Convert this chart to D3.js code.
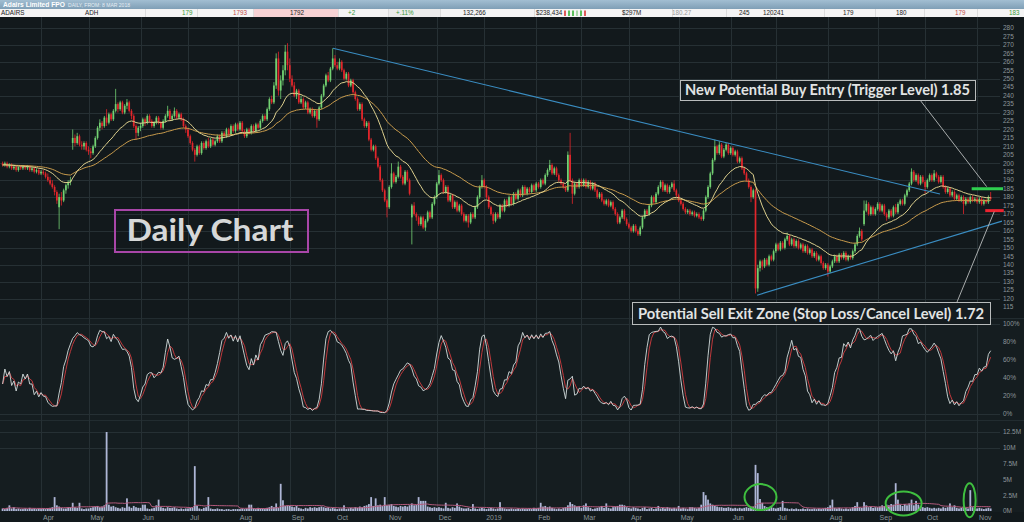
<!DOCTYPE html>
<html><head><meta charset="utf-8">
<script src="https://cdn.jsdelivr.net/npm/d3@7"></script>
<style>html,body{margin:0;padding:0;background:#12191c;overflow:hidden}</style>
</head><body><svg id="c" width="1024" height="522"></svg>
<script>
// ---------------- DATA ----------------
const startDate = "2018-03-08"; // first trading day, one candle per weekday
// daily candles [open, high, low, close] in cents
const ohlc = [
// Mar 2018
[200,201,198,199],[199,201,198,200],[200,201,197,198],[198,200,197,199],[199,200,196,197],[197,199,196,198],[198,199,195,196],[196,198,195,198],[198,199,196,197],[197,199,196,198],[198,199,196,197],[197,199,196,198],[198,199,195,196],[196,198,195,197],[197,198,194,195],[195,197,194,196],[196,197,193,194],
// Apr 2018
[194,196,193,195],[195,196,193,194],[194,195,191,192],[192,194,189,190],[190,192,187,188],[188,190,185,186],[186,187,181,183],[183,184,176,178],[174,182,161,180],[180,183,175,178],[178,185,177,184],[184,188,182,187],[187,190,185,189],[189,192,187,190],[212,220,208,215],[215,217,210,212],[212,218,211,216],[216,217,210,211],[211,213,208,210],[210,213,208,212],[212,213,207,208],
// May 2018
[208,210,205,207],[207,209,203,206],[206,211,205,210],[210,216,209,215],[215,222,214,221],[221,226,219,224],[224,225,220,222],[222,228,221,227],[227,232,222,224],[224,230,223,229],[229,230,225,226],[226,232,225,231],[231,244,230,235],[235,236,230,232],[232,237,231,236],[236,237,229,230],[230,235,229,234],[234,238,232,236],[236,237,230,231],[231,232,226,228],[228,229,221,222],[222,223,214,218],[218,222,216,221],
// Jun 2018
[221,224,219,222],[222,227,221,226],[226,227,222,224],[224,229,223,228],[228,229,224,225],[225,226,221,222],[222,225,221,224],[224,228,223,227],[227,228,223,224],[224,225,220,221],[221,226,220,225],[225,229,224,228],[228,234,227,231],[231,232,225,226],[226,229,225,228],[228,233,227,231],[231,232,226,227],[227,230,226,229],[229,230,225,226],[226,227,221,222],[222,223,218,220],
// Jul 2018
[220,221,215,216],[216,217,211,212],[212,213,207,208],[208,209,201,205],[205,211,204,210],[210,211,205,206],[206,213,205,212],[212,213,208,209],[209,214,208,213],[213,215,209,210],[210,215,209,214],[214,215,210,211],[211,214,210,213],[213,217,212,216],[216,217,212,213],[213,219,212,218],[218,219,215,216],[216,221,215,220],[220,221,216,217],[217,223,216,222],[222,223,218,219],[219,224,218,223],
// Aug 2018
[223,224,219,220],[220,225,219,224],[224,225,218,219],[219,220,215,216],[216,221,215,220],[220,221,217,218],[218,223,217,222],[222,223,218,219],[219,224,218,223],[223,224,220,221],[221,226,220,225],[225,229,224,228],[228,229,225,226],[226,233,225,232],[232,239,231,238],[238,240,235,236],[236,248,235,246],[246,265,244,262],[262,266,240,243],[243,252,238,249],[249,258,246,255],[255,270,252,266],[266,271,255,258],
// Sep 2018
[258,262,248,250],[250,252,245,246],[246,248,239,240],[240,244,238,243],[243,244,235,236],[236,240,235,238],[238,239,232,233],[233,237,232,236],[236,237,229,230],[230,233,229,232],[232,233,227,228],[228,232,227,231],[231,232,221,226],[226,234,225,233],[233,241,232,240],[240,247,239,246],[246,253,245,252],[252,254,248,249],[249,257,248,256],[256,268,255,262],
// Oct 2018
[262,264,257,258],[258,260,255,256],[256,262,255,260],[260,261,254,255],[255,256,249,250],[250,254,249,253],[253,254,245,246],[246,250,245,249],[249,250,241,242],[242,243,237,238],[238,239,231,232],[232,236,231,235],[235,236,225,226],[226,227,221,222],[222,225,221,224],[224,225,213,214],[214,215,207,208],[208,211,207,210],[210,211,202,203],[203,204,197,198],[198,199,189,190],[190,191,183,184],[184,185,177,178],
// Nov 2018
[178,179,168,174],[174,187,173,186],[186,200,185,194],[194,195,188,189],[189,193,188,192],[192,201,191,198],[198,199,191,192],[192,193,187,188],[188,196,187,195],[195,196,189,190],[190,191,181,182],[168,176,152,175],[175,177,169,170],[170,171,166,168],[168,169,163,164],[164,169,163,168],[168,169,161,162],[162,167,160,166],[166,172,165,171],[171,172,167,168],[168,177,167,176],[176,181,175,180],
// Dec 2018
[180,189,179,188],[188,196,187,193],[193,194,189,190],[190,191,182,183],[183,187,182,186],[186,187,177,178],[178,182,177,181],[181,182,173,174],[174,178,173,177],[177,178,171,172],[172,176,171,175],[175,176,169,170],[170,171,165,166],[166,170,165,169],[169,170,162,165],[165,171,164,170],[170,171,167,168],[168,175,167,174],[174,181,173,180],[180,187,179,186],[186,193,185,190],
// Jan 2019
[190,191,185,186],[186,187,179,180],[180,181,173,174],[174,175,169,170],[170,171,164,166],[166,171,165,170],[170,171,167,168],[168,176,167,175],[175,176,171,172],[172,179,171,178],[178,179,174,175],[175,181,174,180],[180,181,175,176],[176,183,175,182],[182,183,178,179],[179,185,178,184],[184,185,180,181],[181,187,180,186],[186,187,181,182],[182,186,181,185],[185,186,182,183],[183,188,182,187],[187,188,183,184],
// Feb 2019
[184,189,183,188],[188,189,185,186],[186,191,185,190],[190,191,187,188],[188,194,187,193],[193,197,192,196],[196,202,195,199],[199,200,193,194],[194,198,193,197],[197,198,192,193],[193,194,189,190],[190,191,187,188],[188,189,185,186],[186,187,183,184],[184,207,183,205],[205,218,189,190],[190,191,176,182],[182,189,181,188],[188,189,185,186],[186,191,185,190],
// Mar 2019
[190,191,186,187],[187,191,186,190],[190,191,185,186],[186,190,185,189],[189,190,184,185],[185,189,184,188],[188,189,183,184],[184,185,179,180],[180,183,179,182],[182,183,177,178],[178,179,175,176],[176,179,175,178],[178,179,174,175],[175,178,174,177],[177,178,172,173],[173,174,169,170],[170,171,164,165],[165,169,164,168],[168,173,167,172],[172,173,166,167],[167,168,163,164],
// Apr 2019
[164,165,161,162],[162,163,159,160],[160,164,159,163],[163,164,159,160],[160,161,157,158],[158,163,157,162],[162,169,161,168],[168,173,167,172],[172,173,169,170],[170,176,169,175],[175,181,174,180],[180,181,176,177],[177,183,176,182],[182,187,181,186],[186,190,185,189],[189,190,183,184],[184,188,183,187],[187,188,182,183],[183,187,182,186],[186,189,185,188],[188,190,183,184],[184,185,180,181],
// May 2019
[181,182,177,178],[178,179,175,176],[176,177,172,173],[173,174,170,171],[171,173,170,172],[172,173,169,170],[170,172,169,171],[171,172,168,169],[169,171,168,170],[170,171,167,168],[168,169,166,167],[167,173,166,172],[172,181,171,180],[180,187,179,186],[186,195,185,194],[194,203,193,202],[202,214,201,210],[210,211,205,206],[206,213,205,211],[211,212,203,204],[204,209,203,208],[208,212,207,211],[211,212,205,206],
// Jun 2019
[206,210,205,209],[209,210,204,205],[205,208,204,207],[207,208,200,201],[201,204,200,203],[203,204,196,197],[197,198,193,194],[194,195,189,190],[190,191,185,186],[186,187,177,180],[180,185,179,184],[184,185,123,126],[126,140,124,138],[138,143,136,142],[142,143,137,139],[139,144,138,143],[143,144,139,140],[140,146,139,145],[145,146,142,143],[143,149,142,148],
// Jul 2019
[148,153,147,152],[152,153,148,149],[149,154,148,153],[153,154,149,150],[150,156,149,155],[155,159,154,157],[157,158,151,152],[152,156,151,155],[155,156,150,151],[151,155,150,154],[154,155,149,150],[150,153,149,152],[152,153,147,148],[148,152,147,151],[151,152,146,147],[147,150,146,149],[149,150,144,145],[145,148,144,147],[147,148,142,143],[143,146,142,145],[145,146,140,141],[141,142,137,138],[138,141,137,140],
// Aug 2019
[140,141,133,136],[136,140,135,139],[139,143,138,142],[142,146,141,145],[145,146,141,142],[142,147,141,146],[146,147,143,144],[144,148,143,147],[147,148,142,143],[143,146,142,145],[145,146,143,144],[144,149,143,148],[148,153,147,152],[152,158,151,157],[157,162,156,160],[160,161,154,155],[164,178,163,172],[172,178,171,176],[176,177,169,170],[170,175,169,174],[174,175,169,170],[170,174,169,173],
// Sep 2019
[173,177,172,176],[176,177,171,172],[172,176,171,175],[175,176,169,170],[170,171,166,168],[168,173,167,172],[172,173,168,169],[169,175,168,174],[174,176,170,171],[171,177,170,176],[176,179,175,178],[178,179,175,176],[176,182,175,181],[181,185,180,184],[184,189,183,188],[188,197,187,195],[195,196,189,190],[190,194,189,193],[193,194,187,188],[188,193,187,192],[192,193,188,189],
// Oct 2019
[189,190,182,186],[186,191,185,190],[190,194,189,193],[193,194,189,190],[190,196,189,194],[194,195,191,192],[192,193,188,189],[189,193,188,192],[192,193,185,186],[186,187,182,183],[183,186,182,185],[185,186,180,181],[181,184,180,183],[183,184,178,179],[179,182,178,181],[181,182,177,178],[178,181,177,180],[180,181,170,176],[176,180,175,179],[179,180,176,177],[177,181,176,180],[180,181,177,178],[178,180,177,179],
// Nov 2019
[179,180,176,177],[177,180,176,179],[179,180,175,176],[176,179,175,178],[178,179,176,177],[177,181,176,180],[180,183,178,179]
];
// daily volume, millions of shares
const volume = [
0.4,0.3,0.5,0.9,0.4,0.6,0.3,0.4,0.3,0.3,0.4,0.3,0.5,0.3,0.4,0.3,0.4,
0.3,0.4,0.3,0.4,0.5,0.6,2.2,0.9,0.7,0.5,0.4,0.4,0.6,0.6,1.3,0.6,0.5,1.3,0.4,0.3,0.4,
0.4,0.5,0.6,0.7,0.8,0.6,0.7,0.9,12.5,1.0,0.7,0.8,0.6,0.5,0.4,0.6,0.5,2.0,0.7,0.5,0.8,0.6,0.5,
0.5,1.0,1.0,0.4,0.3,0.4,0.5,0.9,1.8,0.6,0.5,0.4,0.6,0.5,0.5,0.6,0.4,0.3,0.4,0.3,0.4,
0.4,0.5,0.6,7.1,0.8,0.4,0.3,0.5,0.6,2.2,0.4,0.3,0.3,0.4,0.3,0.3,0.2,0.3,0.3,0.2,0.3,0.3,
0.3,0.3,0.4,0.3,0.4,1.0,1.0,0.4,0.3,0.5,0.4,0.4,0.3,0.5,0.6,0.8,0.6,1.2,0.5,4.3,1.7,0.8,0.9,
0.8,0.7,0.6,0.8,0.5,0.4,0.3,0.5,0.4,0.6,0.5,0.6,0.5,0.6,0.7,0.6,0.5,0.6,0.4,0.5,
0.4,0.3,0.4,0.4,0.9,0.3,0.4,0.5,0.4,0.6,0.5,0.7,0.6,0.8,0.9,1.1,2.2,0.8,2.0,0.9,1.0,0.8,2.2,
0.9,1.0,1.1,0.8,0.7,0.6,0.8,0.7,0.8,0.7,0.9,1.2,0.9,1.0,2.2,1.6,1.6,1.6,0.7,0.6,0.5,0.6,
0.5,0.6,0.5,0.4,1.3,0.5,0.4,0.6,0.5,1.2,0.7,0.5,0.4,0.4,0.5,0.3,1.1,0.4,0.3,0.4,0.5,
0.4,0.3,0.4,0.5,0.4,0.3,0.4,1.4,0.5,0.4,0.3,0.3,0.4,0.3,0.3,0.4,0.3,0.4,0.3,0.3,0.4,0.3,0.5,
0.4,0.5,1.3,0.7,0.8,0.6,0.7,0.5,0.4,0.3,0.4,0.3,0.5,0.6,0.9,1.4,1.1,0.9,0.7,0.8,
0.5,0.9,1.2,0.6,0.5,0.3,0.4,0.5,0.6,0.8,0.5,1.2,0.5,0.4,0.6,0.7,0.8,1.0,1.0,0.9,0.6,
0.5,0.4,0.6,0.5,0.4,0.3,0.5,0.6,0.3,0.4,0.5,0.3,0.4,0.8,0.4,0.5,0.4,0.6,0.5,0.4,0.5,0.4,
0.8,0.4,0.5,0.4,0.3,0.6,0.6,0.5,0.4,0.5,1.0,3.0,2.5,1.8,1.2,1.0,0.8,0.7,0.6,0.6,0.5,0.5,0.6,
0.5,0.4,0.5,0.4,0.5,0.4,0.5,0.6,0.5,0.6,0.7,7.3,6.0,1.9,1.3,0.8,0.6,0.5,0.7,0.5,
0.4,0.5,0.6,1.6,0.5,0.4,0.3,0.4,0.3,0.4,0.3,0.3,0.4,0.3,0.4,0.3,0.3,0.4,0.3,0.4,0.3,0.4,0.5,
0.6,0.9,1.8,0.5,0.4,0.5,0.4,0.3,0.4,0.3,0.4,0.6,0.8,1.4,0.6,0.5,1.4,0.9,0.6,0.7,0.5,0.6,
0.6,0.7,0.9,0.8,1.0,0.9,1.1,1.0,4.4,1.8,1.0,0.8,1.1,0.9,1.2,1.8,0.9,1.6,1.0,0.7,0.6,
0.5,0.6,0.5,0.4,0.5,0.4,0.5,0.4,0.6,0.5,0.6,1.2,0.6,0.9,0.5,0.4,0.5,0.7,0.5,0.4,3.3,0.6,0.4,
0.4,0.5,0.4,0.3,0.4,0.5,0.4
];
const priceTicks = d3.range(115, 281, 5);
const priceGrid = d3.range(120, 281, 10);
const stochTicks = [0, 20, 40, 60, 80, 100];
const volTicks = [0, 2.5, 5, 7.5, 10, 12.5];
// trend lines: [candle index, price]
const trendUpper = [[146.1, 268], [414.6, 181.8]];
const trendLower = [[333.7, 122], [442.0, 165.8]];
// levels: [price, from index, to index]
const buyLevel = [185, 428.6, 442.5];
const stopLevel = [172, 434.6, 442.8];
// volume highlights: [centre index, centre volume]
const volCircles = [[335.2, 2.2], [398.5, 1.2], [427.7, 1.7]];
const buyText = "New Potential Buy Entry (Trigger Level) 1.85";
const stopText = "Potential Sell Exit Zone (Stop Loss/Cancel Level) 1.72";
const chartTitle = "Daily Chart";
const headerTitle = "Adairs Limited FPO";
const headerSub = "DAILY, FROM: 8 MAR 2018";
const headerFields = ["ADAIRS","ADH","179","1793","1792","+2","+.11%","132,266","$238,434","$297M","180.27","245","120241","179","180","179","183"];

// ---------------- DERIVED ----------------
const N = ohlc.length;
const dates = [];
{ let dt = new Date(startDate + "T00:00:00");
  while (dates.length < N) { const wd = dt.getDay(); if (wd !== 0 && wd !== 6) dates.push(new Date(dt)); dt.setDate(dt.getDate() + 1); } }
const closes = ohlc.map(d => d[3]);
const ema = (a, n) => { const k = 2 / (n + 1); let e = a[0]; return a.map(v => (e = e + (v - e) * k)); };
const sma = (a, n) => a.map((v, i) => d3.mean(a.slice(Math.max(0, i - n + 1), i + 1)));
const emaFast = ema(closes, 20), emaSlow = ema(closes, 50);
const fastK = ohlc.map((d, i) => {
  const w = ohlc.slice(Math.max(0, i - 13), i + 1);
  const hh = d3.max(w, e => e[1]), ll = d3.min(w, e => e[2]);
  return hh === ll ? 50 : 100 * (d[3] - ll) / (hh - ll);
});
const stochK = sma(fastK, 3), stochD = sma(stochK, 3);
const volMA = sma(volume, 20);

// ---------------- LAYOUT ----------------
const svg = d3.select("#c");
const plotR = 1000;
const x = d3.scaleLinear().domain([0, N - 1]).range([2.6, 2.6 + (N - 1) * 2.261]);
const y = d3.scaleLinear().domain([115, 280]).range([307, 28]);
const ys = d3.scaleLinear().domain([0, 100]).range([414, 324]);
const yv = d3.scaleLinear().domain([0, 12.5]).range([511, 432]);
const axisFont = "'Liberation Sans', Arial, sans-serif";

// backgrounds
svg.append("rect").attr("x",0).attr("y",0).attr("width",1024).attr("height",522).attr("fill","#12191c");
svg.append("rect").attr("x",0).attr("y",318).attr("width",1024).attr("height",194).attr("fill","#151d20");
svg.append("line").attr("x1",0).attr("x2",1024).attr("y1",318.5).attr("y2",318.5).attr("stroke","#222c30");
svg.append("line").attr("x1",0).attr("x2",1024).attr("y1",420.5).attr("y2",420.5).attr("stroke","#222c30");

// month grid
const monthStarts = d3.range(1, N).filter(i => dates[i].getMonth() !== dates[i - 1].getMonth());
const gridG = svg.append("g").attr("stroke", "#263034").attr("stroke-width", 1);
gridG.selectAll("line.v").data(monthStarts).join("line")
  .attr("x1", i => Math.round(x(i)) + 0.5).attr("x2", i => Math.round(x(i)) + 0.5)
  .attr("y1", 17).attr("y2", 512);
gridG.selectAll("line.p").data(priceGrid).join("line")
  .attr("x1", 0).attr("x2", plotR).attr("y1", d => Math.round(y(d)) + 0.5).attr("y2", d => Math.round(y(d)) + 0.5);
gridG.selectAll("line.s").data([0, 100]).join("line")
  .attr("x1", 0).attr("x2", plotR).attr("y1", d => Math.round(ys(d)) + 0.5).attr("y2", d => Math.round(ys(d)) + 0.5);
gridG.selectAll("line.vv").data([10, 12.5]).join("line")
  .attr("x1", 0).attr("x2", plotR).attr("y1", d => Math.round(yv(d)) + 0.5).attr("y2", d => Math.round(yv(d)) + 0.5);

// x labels
svg.append("g").selectAll("text").data(monthStarts).join("text")
  .attr("x", i => x(i) + 2).attr("y", 519.5)
  .attr("font-family", axisFont).attr("font-size", 7).attr("fill", "#8c969a")
  .text(i => dates[i].getMonth() === 0 ? d3.timeFormat("%Y")(dates[i]) : d3.timeFormat("%b")(dates[i]));

// right axes
const axG = svg.append("g").attr("font-family", axisFont).attr("font-size", 6.5).attr("fill", "#8c969a");
axG.selectAll("text.p").data(priceTicks).join("text").attr("x", 1003).attr("y", d => y(d) + 2.3).text(d => d);
axG.selectAll("text.s").data(stochTicks).join("text").attr("x", 1003).attr("y", d => ys(d) + 2.3).text(d => d + "%");
axG.selectAll("text.v").data(volTicks).join("text").attr("x", 1003).attr("y", d => yv(d) + 2.3).text(d => d + "M");

// candles
const up = "#72d172", dn = "#e3262b";
const cG = svg.append("g");
cG.selectAll("line").data(ohlc).join("line")
  .attr("x1", (d, i) => x(i)).attr("x2", (d, i) => x(i))
  .attr("y1", d => y(d[1])).attr("y2", d => y(d[2]))
  .attr("stroke", d => d[3] >= d[0] ? up : dn).attr("stroke-width", 0.8);
cG.selectAll("rect").data(ohlc).join("rect")
  .attr("x", (d, i) => x(i) - 0.85).attr("width", 1.7)
  .attr("y", d => y(Math.max(d[0], d[3])))
  .attr("height", d => Math.max(0.8, Math.abs(y(d[0]) - y(d[3]))))
  .attr("fill", d => d[3] >= d[0] ? up : dn);

// moving averages
const lineP = d3.line().x((d, i) => x(i)).y(d => y(d));
svg.append("path").attr("d", lineP(emaSlow)).attr("fill", "none").attr("stroke", "#c89b4c").attr("stroke-width", 1);
svg.append("path").attr("d", lineP(emaFast)).attr("fill", "none").attr("stroke", "#ddd08e").attr("stroke-width", 1);

// trend lines
const tl = d3.line().x(d => x(d[0])).y(d => y(d[1]));
svg.append("path").attr("d", tl(trendUpper)).attr("stroke", "#3a8dc2").attr("stroke-width", 1.1).attr("fill", "none");
svg.append("path").attr("d", tl(trendLower)).attr("stroke", "#3a8dc2").attr("stroke-width", 1.1).attr("fill", "none");

// levels
svg.append("line").attr("x1", x(buyLevel[1])).attr("x2", x(buyLevel[2])).attr("y1", y(buyLevel[0])).attr("y2", y(buyLevel[0]))
  .attr("stroke", "#2fcf4f").attr("stroke-width", 3);
svg.append("line").attr("x1", x(stopLevel[1])).attr("x2", x(stopLevel[2])).attr("y1", y(stopLevel[0])).attr("y2", y(stopLevel[0]))
  .attr("stroke", "#ec2330").attr("stroke-width", 3);

// stochastic
const lineS = d3.line().x((d, i) => x(i)).y(d => ys(d));
svg.append("path").attr("d", lineS(stochD)).attr("fill", "none").attr("stroke", "#c0393c").attr("stroke-width", 1);
svg.append("path").attr("d", lineS(stochK)).attr("fill", "none").attr("stroke", "#d3dcdc").attr("stroke-width", 0.9);

// volume
svg.append("g").selectAll("rect").data(volume).join("rect")
  .attr("x", (d, i) => x(i) - 0.9).attr("width", 1.8)
  .attr("y", d => yv(d)).attr("height", d => yv(0) - yv(d))
  .attr("fill", "#aeb6d6");
svg.append("path").attr("d", d3.line().x((d, i) => x(i)).y(d => yv(d))(volMA))
  .attr("fill", "none").attr("stroke", "#b45a7c").attr("stroke-width", 1);
svg.append("g").selectAll("ellipse").data(volCircles).join("ellipse")
  .attr("cx", d => x(d[0])).attr("cy", d => yv(d[1]))
  .attr("rx", (d, i) => [16, 18, 6][i]).attr("ry", (d, i) => [13, 12, 17][i])
  .attr("fill", "none").attr("stroke", "#3fbf3f").attr("stroke-width", 2);

// annotations
const annFont = "Lato, 'Open Sans', sans-serif";
function box(x0, y0, w, h, txt, tw, fs) {
  svg.append("rect").attr("x", x0 + 0.5).attr("y", y0 + 0.5).attr("width", w).attr("height", h)
    .attr("fill", "#151c1f").attr("stroke", "#b9bcbc").attr("stroke-width", 1);
  svg.append("text").attr("x", x0 + w / 2).attr("y", y0 + h / 2 + fs * 0.36).attr("text-anchor", "middle")
    .attr("font-family", annFont).attr("font-weight", "bold").attr("font-size", fs).attr("fill", "#e2e4e4")
    .attr("textLength", tw).attr("lengthAdjust", "spacingAndGlyphs").text(txt);
}
// pointer lines
svg.append("line").attr("x1", 920).attr("y1", 100).attr("x2", x(buyLevel[1]) + 15).attr("y2", y(buyLevel[0]) - 2)
  .attr("stroke", "#b9bcbc").attr("stroke-width", 0.9);
svg.append("line").attr("x1", 957).attr("y1", 302).attr("x2", x(stopLevel[1]) + 9).attr("y2", y(stopLevel[0]) + 1)
  .attr("stroke", "#b9bcbc").attr("stroke-width", 0.9);
box(680, 80, 295, 20, buyText, 285, 15);
box(632, 302, 358, 22, stopText, 346, 15.5);

// Daily Chart label
svg.append("rect").attr("x", 115).attr("y", 210).attr("width", 193).attr("height", 42)
  .attr("fill", "none").attr("stroke", "#a846a8").attr("stroke-width", 2);
svg.append("text").attr("x", 210).attr("y", 240.5).attr("text-anchor", "middle")
  .attr("font-family", annFont).attr("font-weight", "bold").attr("font-size", 31).attr("fill", "#d6d8d8")
  .attr("textLength", 167).attr("lengthAdjust", "spacingAndGlyphs").text(chartTitle);

// header
const defs = svg.append("defs");
const gr = defs.append("linearGradient").attr("id", "hg").attr("x1", 0).attr("x2", 0).attr("y1", 0).attr("y2", 1);
gr.append("stop").attr("offset", 0).attr("stop-color", "#a2bed2");
gr.append("stop").attr("offset", 1).attr("stop-color", "#7f9fb6");
svg.append("rect").attr("x", 0).attr("y", 0).attr("width", 1024).attr("height", 9).attr("fill", "url(#hg)");
svg.append("text").attr("x", 3).attr("y", 7).attr("font-family", axisFont).attr("font-weight", "bold")
  .attr("font-size", 7).attr("fill", "#ffffff")
  .attr("textLength", 62).attr("lengthAdjust", "spacingAndGlyphs").text(headerTitle);
svg.append("text").attr("x", 68).attr("y", 6.8).attr("font-family", axisFont)
  .attr("font-size", 4.6).attr("fill", "#e6eef4")
  .attr("textLength", 62).attr("lengthAdjust", "spacingAndGlyphs").text(headerSub);
svg.append("rect").attr("x", 0).attr("y", 9).attr("width", 1024).attr("height", 8).attr("fill", "#f4f4f4");
svg.append("rect").attr("x", 253).attr("y", 9).attr("width", 85).attr("height", 8).attr("fill", "#f6d2d4");
svg.append("rect").attr("x", 388).attr("y", 9).attr("width", 52).attr("height", 8).attr("fill", "#ececec");
const sepX = [145, 197, 253, 338, 388, 440, 534, 580, 629, 672, 726, 770, 824, 875, 924, 977];
svg.append("g").selectAll("line").data(sepX).join("line")
  .attr("x1", d => d + 0.5).attr("x2", d => d + 0.5).attr("y1", 9).attr("y2", 17).attr("stroke", "#dcdcdc");
const hx = [1, 85, 182, 233, 290, 348, 396, 463, 536, 622, 672, 739, 763, 843, 896, 955, 1009];
const hc = ["#222","#222","#3a9a3a","#c04a4a","#222","#3a9a3a","#3a9a3a","#222","#222","#222","#999","#222","#222","#222","#222","#c04a4a","#3a9a3a"];
svg.append("g").selectAll("text").data(headerFields).join("text")
  .attr("x", (d, i) => hx[i]).attr("y", 15.3).attr("font-family", axisFont).attr("font-size", 6.3)
  .attr("fill", (d, i) => hc[i]).text(d => d);
const barsX = [564, 568, 572, 576, 580, 584];
svg.append("g").selectAll("rect").data(barsX).join("rect")
  .attr("x", d => d).attr("y", 10.5).attr("width", 2).attr("height", 5.5)
  .attr("fill", (d, i) => [ "#e05a5a", "#5cbf5c", "#5cbf5c", "#a8d8a8", "#5cbf5c", "#e05a5a"][i]);
</script>
</body></html>
